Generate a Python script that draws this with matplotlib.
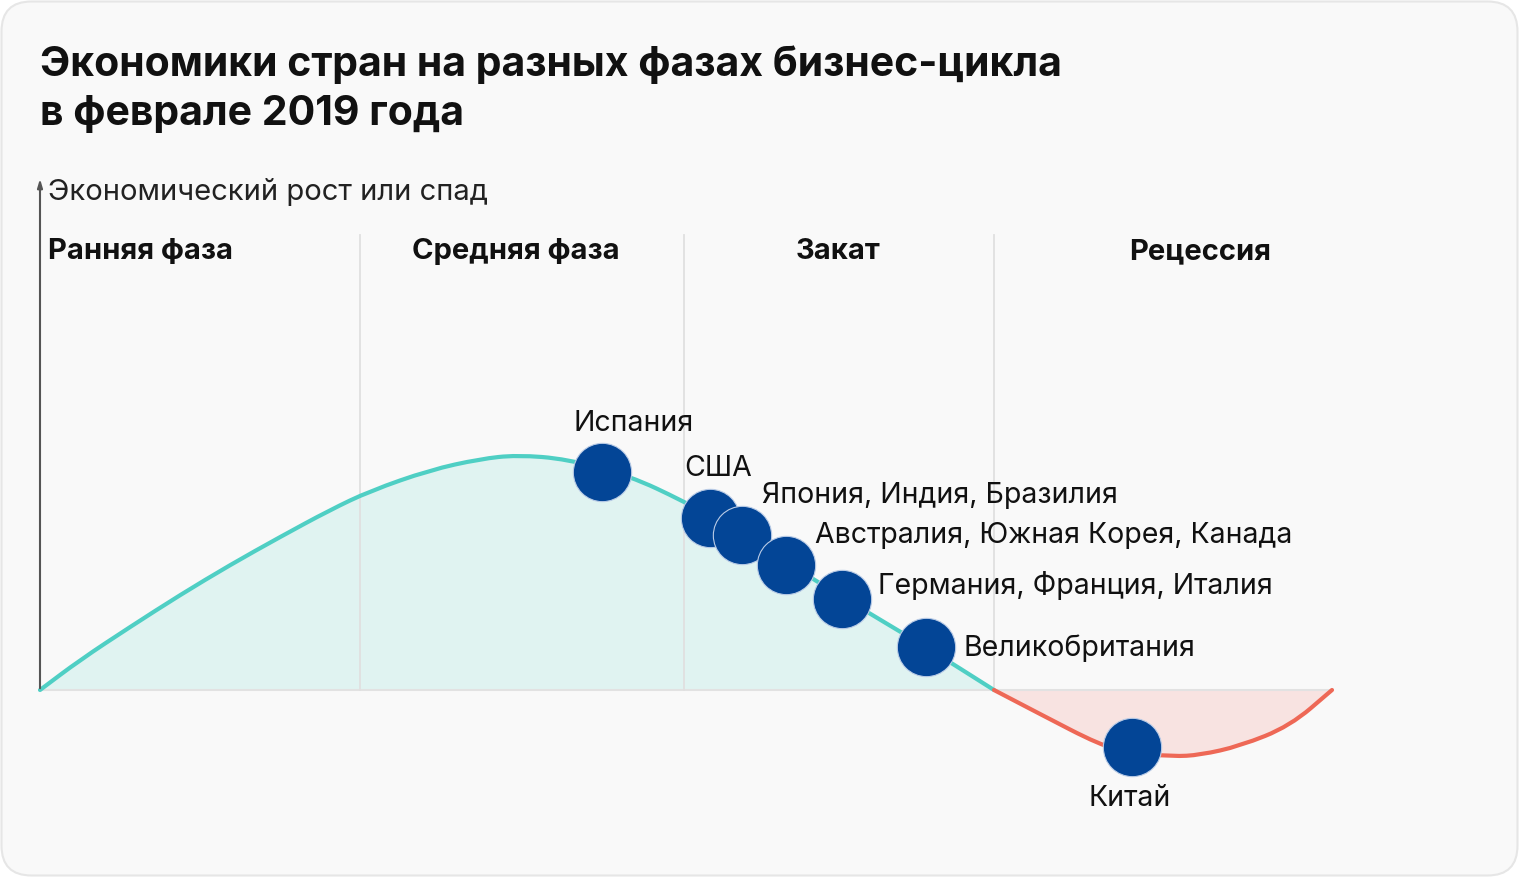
import numpy as np
import matplotlib.pyplot as plt
from matplotlib.patches import FancyBboxPatch, PathPatch
from matplotlib.path import Path
from matplotlib.transforms import IdentityTransform

plt.rcParams['font.family'] = ['Inter', 'DejaVu Sans']

# curve of the business cycle
curve_x = [0, 4, 9, 14, 19, 24, 29, 33, 39, 44, 47.7, 52.7, 59, 64.3, 67, 70.2,
           74.6, 80.2, 88.6, 95.4, 100, 106, 109, 113.3, 116, 120, 125, 129.2]
curve_y = [0, 3.0, 6.3, 9.5, 12.5, 15.3, 18.0, 19.9, 22.0, 23.1, 23.5, 23.1, 21.4,
           18.9, 17.4, 15.6, 12.8, 9.3, 4.3, 0, -2.4, -5.5, -6.25, -6.65, -6.5, -5.6,
           -3.6, 0]

countries = ["Испания", "США", "Япония, Индия, Бразилия",
             "Австралия, Южная Корея, Канада", "Германия, Франция, Италия",
             "Великобритания", "Китай"]
country_x = [56.2, 67.0, 70.2, 74.6, 80.2, 88.6, 109.2]
country_y = [21.8, 17.2, 15.5, 12.5, 9.1, 4.3, -5.7]

phases = ["Ранняя фаза", "Средняя фаза", "Закат", "Рецессия"]
phase_bounds = [32, 64.4, 95.4]

title = "Экономики стран на разных фазах бизнес-цикла\nв феврале 2019 года"
y_label = "Экономический рост или спад"

teal = '#4fcfc4'
teal_fill = '#e0f3f1'
red = '#ee6856'
red_fill = '#f8e3e1'
blue = '#034596'


def smooth_path(px, py, close=False):
    # quadratic bezier through midpoints, so the drawn line has no corners
    pts = np.column_stack([px, py])
    verts = [pts[0], (pts[0] + pts[1]) / 2]
    codes = [Path.MOVETO, Path.LINETO]
    for i in range(1, len(pts) - 1):
        verts += [pts[i], (pts[i] + pts[i + 1]) / 2]
        codes += [Path.CURVE3, Path.CURVE3]
    verts.append(pts[-1])
    codes.append(Path.LINETO)
    if close:
        verts.append(pts[0])
        codes.append(Path.CLOSEPOLY)
    return Path(verts, codes)


fig = plt.figure(figsize=(15.2, 8.78), dpi=100, facecolor='white')
card = FancyBboxPatch((1.5, 1.5), 1516, 874, boxstyle='round,pad=0,rounding_size=30',
                      transform=IdentityTransform(), facecolor='#f9f9f9',
                      edgecolor='#e6e6e6', linewidth=1.5, zorder=-5)
fig.patches.append(card)

ax = fig.add_axes([0, 0, 1, 1])
ax.set_zorder(2)
ax.set_facecolor('none')
ax.set_xlim(-4, 148)
ax.set_ylim(-18.7, 69.1)
ax.axis('off')

x = np.array(curve_x)
y = np.array(curve_y)
up = x <= 95.4
down = x >= 95.4

# fills
ax.add_patch(PathPatch(smooth_path(x[up], y[up], close=True), facecolor=teal_fill, lw=0, zorder=1))
ax.add_patch(PathPatch(smooth_path(x[down], y[down], close=True), facecolor=red_fill, lw=0, zorder=1))

# grid lines: zero line and phase separators
ax.plot([0, x[-1]], [0, 0], color='#e2e2e2', lw=1.5, zorder=2)
for b in phase_bounds:
    ax.plot([b, b], [0, 45.5], color='#e0e0e0', lw=1.3, zorder=2)

# curve, teal above zero, red below
ax.add_patch(PathPatch(smooth_path(x[up], y[up]), facecolor='none', edgecolor=teal, lw=3,
                       capstyle='round', zorder=3))
ax.add_patch(PathPatch(smooth_path(x[down], y[down]), facecolor='none', edgecolor=red, lw=3,
                       capstyle='round', zorder=3))

# vertical axis with arrow
ax.annotate('', xy=(0, 51.4), xytext=(0, -0.1),
            arrowprops=dict(arrowstyle='-|>,head_length=0.5,head_width=0.15', color='#555555', lw=1.5),
            zorder=4)
ax.text(0.8, 49.9, y_label, fontsize=21, color='#222222', ha='left', va='center')

# phase labels
phase_x = [0.8, 47.6, 79.8, 116]
phase_ha = ['left', 'center', 'center', 'center']
for name, px, ha in zip(phases, phase_x, phase_ha):
    ax.text(px, 43.9, name, fontsize=21, fontweight='bold', color='#111111', ha=ha, va='center')

# countries
offsets = [(32, 49, 'center'), (8, 50, 'center'), (20, 40, 'left'), (29, 30, 'left'),
           (36, 14, 'left'), (37, 0, 'left'), (-2, -51, 'center')]
for name, cx, cy, (dx, dy, ha) in zip(countries, country_x, country_y, offsets):
    ax.plot(cx, cy, 'o', ms=42, color=blue, mec='#b9cbe6', mew=0.8, zorder=5)
    ax.annotate(name, (cx, cy), xytext=(dx, dy), textcoords='offset pixels',
                fontsize=20.5, color='#111111', ha=ha, va='center', zorder=6)

fig.text(40 / 1520, 1 - 89 / 878, title, fontsize=29.5, fontweight='bold', color='#111111',
         ha='left', va='center', linespacing=1.35)

fig.savefig('out.png', dpi=100, facecolor='white')
